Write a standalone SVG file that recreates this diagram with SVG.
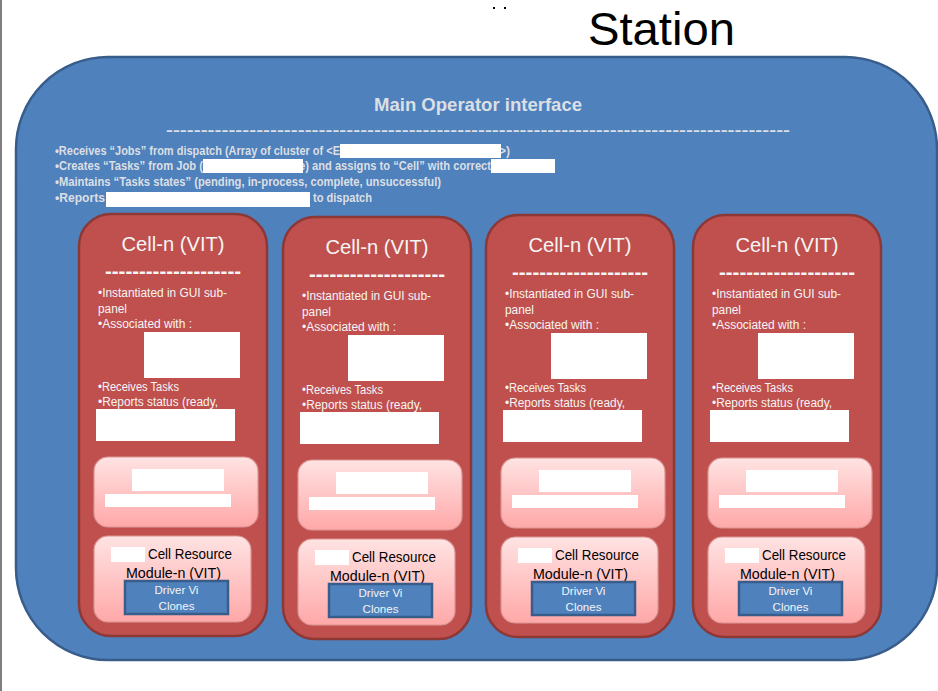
<svg xmlns="http://www.w3.org/2000/svg" width="938" height="691" viewBox="0 0 938 691">
<defs>
<linearGradient id="pink" x1="0" y1="0" x2="0" y2="1">
<stop offset="0" stop-color="#FFE3E3"/>
<stop offset="1" stop-color="#FFA8A8"/>
</linearGradient>
<style>
text{font-family:"Liberation Sans",Arial,sans-serif}
.blue{fill:#4F81BD;stroke:#385D8A;stroke-width:2.5}
.cell{fill:#C0504D;stroke:#8C3836;stroke-width:2.5}
.pk{fill:url(#pink);stroke:#D99694;stroke-width:1.2}
.wb{fill:#FFFFFF}
.mt{fill:#DCDFE4;font-weight:bold;font-size:18.5px}
.mb{fill:#DCDFE4;font-weight:bold;font-size:12px}
.md{fill:#DCDFE4;font-weight:bold;font-size:15px}
.ct{fill:#F5F5F5;font-size:21px}
.cd{fill:#F5F5F5;font-size:20px;font-weight:bold}
.cb{fill:#F5F5F5;font-size:12px}
.rs{fill:#000000;font-size:14px}
.dv{fill:#F5F5F5;font-size:11.5px}
.drv{fill:#4F81BD;stroke:#385D8A;stroke-width:2.5}
</style>
</defs>
<rect x="0" y="0" width="938" height="691" fill="#FFFFFF"/>
<line x1="1" y1="0" x2="1" y2="691" stroke="#7F7F7F" stroke-width="2"/>
<rect x="493" y="7" width="2" height="2" fill="#000"/>
<rect x="504" y="7" width="2" height="2" fill="#000"/>
<text x="588" y="45" font-size="46" fill="#000000" textLength="147" lengthAdjust="spacingAndGlyphs">Station</text>

<g id="main">
<rect class="blue" x="16" y="57" width="921" height="603" rx="92"/>
<text class="mt" x="478" y="111" text-anchor="middle" textLength="208" lengthAdjust="spacingAndGlyphs">Main Operator interface</text>
<text class="md" x="166" y="135" textLength="624" lengthAdjust="spacingAndGlyphs">------------------------------------------------------------------------------------------</text>
<text class="mb" x="55" y="155" textLength="285" lengthAdjust="spacingAndGlyphs">•Receives “Jobs” from dispatch (Array of cluster of &lt;E</text>
<text class="mb" x="499" y="155">&gt;)</text>
<rect class="wb" x="340" y="144" width="161" height="14"/>
<text class="mb" x="55" y="170" textLength="148" lengthAdjust="spacingAndGlyphs">•Creates “Tasks” from Job (</text>
<text class="mb" x="299" y="170" textLength="192" lengthAdjust="spacingAndGlyphs">e) and assigns to “Cell” with correct</text>
<rect class="wb" x="203" y="159" width="100" height="14"/>
<rect class="wb" x="491" y="159" width="64" height="14"/>
<text class="mb" x="55" y="186" textLength="386" lengthAdjust="spacingAndGlyphs">•Maintains “Tasks states” (pending, in-process, complete, unsuccessful)</text>
<text class="mb" x="55" y="202" textLength="50" lengthAdjust="spacingAndGlyphs">•Reports </text>
<rect class="wb" x="106" y="192" width="204" height="15"/>
<text class="mb" x="313" y="202" textLength="59" lengthAdjust="spacingAndGlyphs">to dispatch</text>
</g>

<g id="cell1">
<rect class="cell" x="79" y="214" width="188" height="422" rx="32"/>
<text class="ct" x="173" y="251" text-anchor="middle" textLength="103" lengthAdjust="spacingAndGlyphs">Cell-n (VIT)</text>
<text class="cd" x="173" y="278" text-anchor="middle" textLength="136" lengthAdjust="spacingAndGlyphs">--------------------</text>
<text class="cb" x="98" y="297" textLength="129" lengthAdjust="spacingAndGlyphs">•Instantiated in GUI sub-</text>
<text class="cb" x="98" y="313" textLength="29" lengthAdjust="spacingAndGlyphs">panel</text>
<text class="cb" x="98" y="328" textLength="94" lengthAdjust="spacingAndGlyphs">•Associated with :</text>
<rect class="wb" x="144" y="332" width="96" height="46"/>
<text class="cb" x="98" y="391" textLength="81" lengthAdjust="spacingAndGlyphs">•Receives Tasks</text>
<text class="cb" x="98" y="406" textLength="120" lengthAdjust="spacingAndGlyphs">•Reports status (ready,</text>
<rect class="wb" x="96" y="409" width="139" height="32"/>
<rect class="pk" x="94" y="457" width="164" height="70" rx="14"/>
<rect class="wb" x="132" y="469" width="92" height="22"/>
<rect class="wb" x="105" y="494" width="126" height="13"/>
<rect class="pk" x="94" y="536" width="157" height="86" rx="14"/>
<rect class="wb" x="111" y="547" width="34" height="15"/>
<text class="rs" x="148" y="559" textLength="84" lengthAdjust="spacingAndGlyphs">Cell Resource</text>
<text class="rs" x="173.5" y="578" text-anchor="middle" textLength="95" lengthAdjust="spacingAndGlyphs">Module-n (VIT)</text>
<rect class="drv" x="125" y="581" width="103" height="33"/>
<text class="dv" x="176.5" y="594" text-anchor="middle">Driver Vi</text>
<text class="dv" x="176.5" y="610" text-anchor="middle">Clones</text>
</g>

<g id="cell2" transform="translate(204,3)">
<rect class="cell" x="79" y="214" width="188" height="422" rx="32"/>
<text class="ct" x="173" y="251" text-anchor="middle" textLength="103" lengthAdjust="spacingAndGlyphs">Cell-n (VIT)</text>
<text class="cd" x="173" y="278" text-anchor="middle" textLength="136" lengthAdjust="spacingAndGlyphs">--------------------</text>
<text class="cb" x="98" y="297" textLength="129" lengthAdjust="spacingAndGlyphs">•Instantiated in GUI sub-</text>
<text class="cb" x="98" y="313" textLength="29" lengthAdjust="spacingAndGlyphs">panel</text>
<text class="cb" x="98" y="328" textLength="94" lengthAdjust="spacingAndGlyphs">•Associated with :</text>
<rect class="wb" x="144" y="332" width="96" height="46"/>
<text class="cb" x="98" y="391" textLength="81" lengthAdjust="spacingAndGlyphs">•Receives Tasks</text>
<text class="cb" x="98" y="406" textLength="120" lengthAdjust="spacingAndGlyphs">•Reports status (ready,</text>
<rect class="wb" x="96" y="409" width="139" height="32"/>
<rect class="pk" x="94" y="457" width="164" height="70" rx="14"/>
<rect class="wb" x="132" y="469" width="92" height="22"/>
<rect class="wb" x="105" y="494" width="126" height="13"/>
<rect class="pk" x="94" y="536" width="157" height="86" rx="14"/>
<rect class="wb" x="111" y="547" width="34" height="15"/>
<text class="rs" x="148" y="559" textLength="84" lengthAdjust="spacingAndGlyphs">Cell Resource</text>
<text class="rs" x="173.5" y="578" text-anchor="middle" textLength="95" lengthAdjust="spacingAndGlyphs">Module-n (VIT)</text>
<rect class="drv" x="125" y="581" width="103" height="33"/>
<text class="dv" x="176.5" y="594" text-anchor="middle">Driver Vi</text>
<text class="dv" x="176.5" y="610" text-anchor="middle">Clones</text>
</g>

<g id="cell3" transform="translate(407,1)">
<rect class="cell" x="79" y="214" width="188" height="422" rx="32"/>
<text class="ct" x="173" y="251" text-anchor="middle" textLength="103" lengthAdjust="spacingAndGlyphs">Cell-n (VIT)</text>
<text class="cd" x="173" y="278" text-anchor="middle" textLength="136" lengthAdjust="spacingAndGlyphs">--------------------</text>
<text class="cb" x="98" y="297" textLength="129" lengthAdjust="spacingAndGlyphs">•Instantiated in GUI sub-</text>
<text class="cb" x="98" y="313" textLength="29" lengthAdjust="spacingAndGlyphs">panel</text>
<text class="cb" x="98" y="328" textLength="94" lengthAdjust="spacingAndGlyphs">•Associated with :</text>
<rect class="wb" x="144" y="332" width="96" height="46"/>
<text class="cb" x="98" y="391" textLength="81" lengthAdjust="spacingAndGlyphs">•Receives Tasks</text>
<text class="cb" x="98" y="406" textLength="120" lengthAdjust="spacingAndGlyphs">•Reports status (ready,</text>
<rect class="wb" x="96" y="409" width="139" height="32"/>
<rect class="pk" x="94" y="457" width="164" height="70" rx="14"/>
<rect class="wb" x="132" y="469" width="92" height="22"/>
<rect class="wb" x="105" y="494" width="126" height="13"/>
<rect class="pk" x="94" y="536" width="157" height="86" rx="14"/>
<rect class="wb" x="111" y="547" width="34" height="15"/>
<text class="rs" x="148" y="559" textLength="84" lengthAdjust="spacingAndGlyphs">Cell Resource</text>
<text class="rs" x="173.5" y="578" text-anchor="middle" textLength="95" lengthAdjust="spacingAndGlyphs">Module-n (VIT)</text>
<rect class="drv" x="125" y="581" width="103" height="33"/>
<text class="dv" x="176.5" y="594" text-anchor="middle">Driver Vi</text>
<text class="dv" x="176.5" y="610" text-anchor="middle">Clones</text>
</g>

<g id="cell4" transform="translate(614,1)">
<rect class="cell" x="79" y="214" width="188" height="422" rx="32"/>
<text class="ct" x="173" y="251" text-anchor="middle" textLength="103" lengthAdjust="spacingAndGlyphs">Cell-n (VIT)</text>
<text class="cd" x="173" y="278" text-anchor="middle" textLength="136" lengthAdjust="spacingAndGlyphs">--------------------</text>
<text class="cb" x="98" y="297" textLength="129" lengthAdjust="spacingAndGlyphs">•Instantiated in GUI sub-</text>
<text class="cb" x="98" y="313" textLength="29" lengthAdjust="spacingAndGlyphs">panel</text>
<text class="cb" x="98" y="328" textLength="94" lengthAdjust="spacingAndGlyphs">•Associated with :</text>
<rect class="wb" x="144" y="332" width="96" height="46"/>
<text class="cb" x="98" y="391" textLength="81" lengthAdjust="spacingAndGlyphs">•Receives Tasks</text>
<text class="cb" x="98" y="406" textLength="120" lengthAdjust="spacingAndGlyphs">•Reports status (ready,</text>
<rect class="wb" x="96" y="409" width="139" height="32"/>
<rect class="pk" x="94" y="457" width="164" height="70" rx="14"/>
<rect class="wb" x="132" y="469" width="92" height="22"/>
<rect class="wb" x="105" y="494" width="126" height="13"/>
<rect class="pk" x="94" y="536" width="157" height="86" rx="14"/>
<rect class="wb" x="111" y="547" width="34" height="15"/>
<text class="rs" x="148" y="559" textLength="84" lengthAdjust="spacingAndGlyphs">Cell Resource</text>
<text class="rs" x="173.5" y="578" text-anchor="middle" textLength="95" lengthAdjust="spacingAndGlyphs">Module-n (VIT)</text>
<rect class="drv" x="125" y="581" width="103" height="33"/>
<text class="dv" x="176.5" y="594" text-anchor="middle">Driver Vi</text>
<text class="dv" x="176.5" y="610" text-anchor="middle">Clones</text>
</g>

<g id="connectors"></g>
</svg>
